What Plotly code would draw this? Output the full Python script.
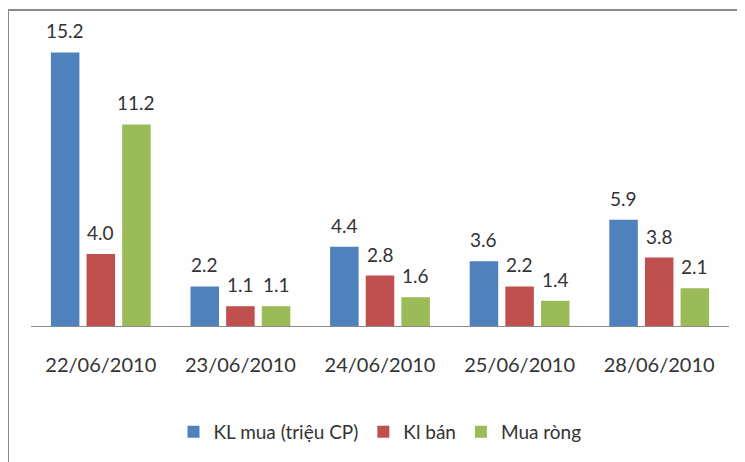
import plotly.graph_objects as go

categories = ["22/06/2010", "23/06/2010", "24/06/2010", "25/06/2010", "28/06/2010"]
kl_mua = [15.2, 2.2, 4.4, 3.6, 5.9]
kl_ban = [4.0, 1.1, 2.8, 2.2, 3.8]
mua_rong = [11.2, 1.1, 1.6, 1.4, 2.1]

series_names = ["KL mua (triệu CP)", "Kl bán", "Mua ròng"]
series_vals = [kl_mua, kl_ban, mua_rong]
colors = ["#4F81BD", "#C0504D", "#9BBB59"]
FONT = "Lato"
TXT = "#333333"

# the page body adds an 8px offset; compensate in margins
OFF = 8
W, H = 745, 462
L = 31 - OFF
T = 20 - OFF
R = W - (729 - OFF)
B = H - (326 - OFF)
ph = H - T - B
pw = W - L - R
BARGAP = 0.234
ncat = len(categories)
slot = pw / ncat * (1 - BARGAP) / len(series_vals)

fig = go.Figure()
annotations = []
for i, (name, vals, col) in enumerate(zip(series_names, series_vals, colors)):
    fig.add_trace(go.Bar(
        x=categories, y=vals, name=name, marker_color=col,
        marker_line_width=0,
    ))
    for c, v in zip(categories, vals):
        annotations.append(dict(
            x=c, y=v, xref="x", yref="y", text=f"{v:.1f}", showarrow=False,
            xanchor="center", yanchor="bottom", yshift=8,
            xshift=(i - 1) * slot,
            font=dict(family=FONT, size=19, color=TXT),
        ))

fig.update_layout(
    width=W, height=H,
    margin=dict(l=L, r=R, t=T, b=B, autoexpand=False),
    paper_bgcolor="#FEFEFE", plot_bgcolor="#FEFEFE",
    barmode="group", bargap=BARGAP, bargroupgap=0.2,
    font=dict(family=FONT, size=19, color=TXT),
    showlegend=True,
    legend=dict(orientation="h", x=0.5, xanchor="center",
                y=(326 - 432) / ph, yanchor="middle",
                font=dict(family=FONT, size=19, color=TXT),
                itemwidth=30, traceorder="normal"),
    xaxis=dict(showline=True, linecolor="#8C8C8C", linewidth=1,
               ticks="", ticklabelstandoff=21, automargin=False,
               tickfont=dict(family=FONT, size=20, color=TXT)),
    yaxis=dict(range=[0, 17], visible=False, showgrid=False, zeroline=False),
    annotations=annotations,
    shapes=[dict(type="rect", xref="paper", yref="paper",
                 x0=(8 - 31) / pw, x1=(770 - 31) / pw,
                 y0=(326 - 490) / ph, y1=(326 - 10) / ph,
                 line=dict(color="#8A8A8A", width=2), layer="below")],
)

fig.write_html("out.html")
